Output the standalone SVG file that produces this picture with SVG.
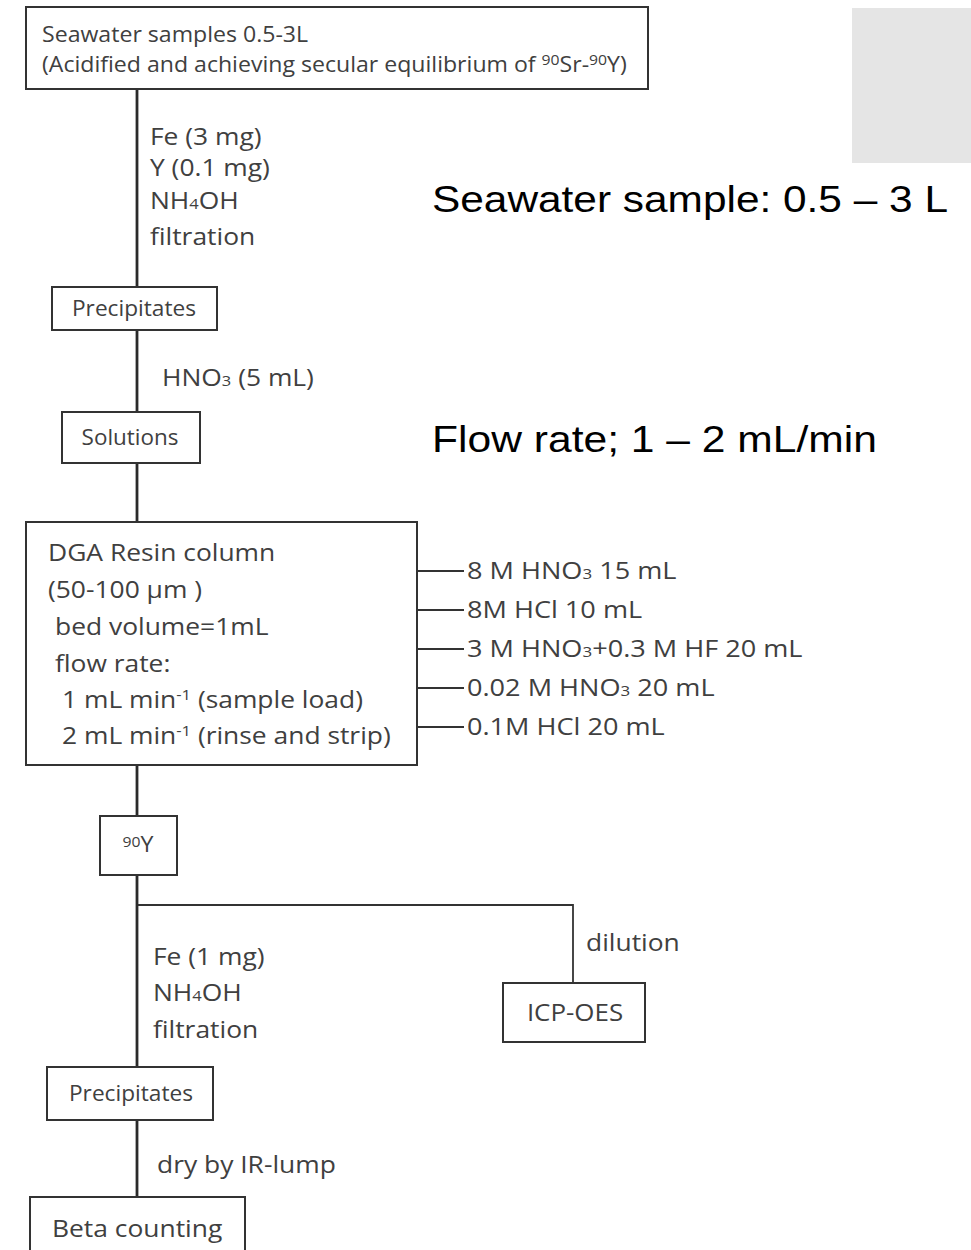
<svg xmlns="http://www.w3.org/2000/svg" width="971" height="1250" viewBox="0 0 971 1250">
<style>
.box{fill:#fff;stroke:#333;stroke-width:2}
.ln{stroke:#2a2a2a;stroke-width:2.8;fill:none}
.tk{stroke:#333;stroke-width:1.8;fill:none}
.t{font-family:"Open Sans","Noto Sans",sans-serif;font-size:22px;fill:#404040}
.l{font-size:24px}
.c{text-anchor:middle}
.big{font-family:"Liberation Sans",Arial,sans-serif;font-size:36px;fill:#000}
.sm{font-size:15px}
</style>
<rect width="971" height="1250" fill="#fff"/>
<rect x="852" y="8" width="119" height="155" fill="#e5e5e5"/>
<text class="big" x="432" y="212" textLength="516" lengthAdjust="spacingAndGlyphs">Seawater sample: 0.5 – 3 L</text>
<text class="big" x="432" y="452" textLength="445" lengthAdjust="spacingAndGlyphs">Flow rate; 1 – 2 mL/min</text>

<g id="connectors">
<line class="ln" x1="137" y1="89" x2="137" y2="287"/>
<line class="ln" x1="137" y1="330" x2="137" y2="412"/>
<line class="ln" x1="137" y1="463" x2="137" y2="522"/>
<line class="ln" x1="137" y1="765" x2="137" y2="816"/>
<line class="ln" x1="137" y1="875" x2="137" y2="1067"/>
<polyline class="tk" points="138,905 573,905 573,983"/>
<line class="ln" x1="137" y1="1120" x2="137" y2="1197"/>
<line class="tk" x1="417" y1="571" x2="464" y2="571"/>
<line class="tk" x1="417" y1="610" x2="464" y2="610"/>
<line class="tk" x1="417" y1="649" x2="464" y2="649"/>
<line class="tk" x1="417" y1="688" x2="464" y2="688"/>
<line class="tk" x1="417" y1="727" x2="464" y2="727"/>
<text class="t l" transform="translate(150 145) scale(1.1 1)">Fe (3 mg)</text>
<text class="t l" transform="translate(150 176) scale(1.1 1)">Y (0.1 mg)</text>
<text class="t l" transform="translate(150 209) scale(1.1 1)">NH<tspan class="sm">4</tspan>OH</text>
<text class="t l" transform="translate(150 245) scale(1.1 1)">filtration</text>
<text class="t l" transform="translate(162 386) scale(1.1 1)">HNO<tspan class="sm">3</tspan> (5 mL)</text>
<text class="t l" transform="translate(467 579) scale(1.13 1)">8 M HNO<tspan class="sm">3</tspan> 15 mL</text>
<text class="t l" transform="translate(467 618) scale(1.13 1)">8M HCl 10 mL</text>
<text class="t l" transform="translate(467 657) scale(1.13 1)">3 M HNO<tspan class="sm">3</tspan>+0.3 M HF 20 mL</text>
<text class="t l" transform="translate(467 696) scale(1.13 1)">0.02 M HNO<tspan class="sm">3</tspan> 20 mL</text>
<text class="t l" transform="translate(467 735) scale(1.13 1)">0.1M HCl 20 mL</text>
<text class="t l" transform="translate(586 951) scale(1.1 1)">dilution</text>
<text class="t l" transform="translate(153 965) scale(1.1 1)">Fe (1 mg)</text>
<text class="t l" transform="translate(153 1001) scale(1.1 1)">NH<tspan class="sm">4</tspan>OH</text>
<text class="t l" transform="translate(153 1038) scale(1.1 1)">filtration</text>
<text class="t l" transform="translate(157 1173) scale(1.1 1)">dry by IR-lump</text>
</g>

<g id="n-sample">
<rect class="box" x="26" y="7" width="622" height="82"/>
<text class="t" transform="translate(42 42) scale(1.05 1)">Seawater samples 0.5-3L</text>
<text class="t" transform="translate(42 72) scale(1.05 1)">(Acidified and achieving secular equilibrium of <tspan class="sm" dy="-7">90</tspan><tspan dy="7">Sr-</tspan><tspan class="sm" dy="-7">90</tspan><tspan dy="7">Y)</tspan></text>
</g>
<g id="n-precip1">
<rect class="box" x="52" y="287" width="165" height="43"/>
<text class="t c" transform="translate(134 316) scale(1.03 1)">Precipitates</text>
</g>
<g id="n-solutions">
<rect class="box" x="62" y="412" width="138" height="51"/>
<text class="t c" transform="translate(130 445) scale(1.02 1)">Solutions</text>
</g>
<g id="n-dga">
<rect class="box" x="26" y="522" width="391" height="243"/>
<text class="t l" transform="translate(48 561) scale(1.1 1)">DGA Resin column</text>
<text class="t l" transform="translate(48 598) scale(1.1 1)">(50-100 µm )</text>
<text class="t l" transform="translate(55 635) scale(1.1 1)">bed volume=1mL</text>
<text class="t l" transform="translate(55 672) scale(1.1 1)">flow rate:</text>
<text class="t l" transform="translate(62 708) scale(1.1 1)">1 mL min<tspan class="sm" dy="-8">-1</tspan><tspan dy="8"> (sample load)</tspan></text>
<text class="t l" transform="translate(62 744) scale(1.1 1)">2 mL min<tspan class="sm" dy="-8">-1</tspan><tspan dy="8"> (rinse and strip)</tspan></text>
</g>
<g id="n-y90">
<rect class="box" x="100" y="816" width="77" height="59"/>
<text class="t c" transform="translate(138 852) scale(1.05 1)"><tspan class="sm" dy="-5">90</tspan><tspan dy="5">Y</tspan></text>
</g>
<g id="n-icp">
<rect class="box" x="503" y="983" width="142" height="59"/>
<text class="t l c" transform="translate(575 1021) scale(1.08 1)">ICP-OES</text>
</g>
<g id="n-precip2">
<rect class="box" x="47" y="1067" width="166" height="53"/>
<text class="t c" transform="translate(131 1101) scale(1.03 1)">Precipitates</text>
</g>
<g id="n-beta">
<rect class="box" x="30" y="1197" width="215" height="70"/>
<text class="t l" transform="translate(52 1237) scale(1.1 1)">Beta counting</text>
</g>
</svg>
